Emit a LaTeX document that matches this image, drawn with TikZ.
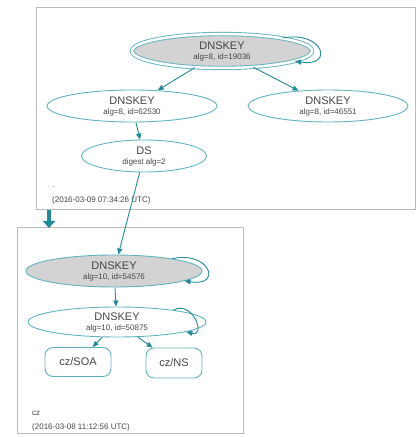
\documentclass[tikz,border=0pt]{standalone}
\usepackage{fontspec}
\setmainfont{Liberation Sans}
\usetikzlibrary{shapes.geometric,arrows.meta}
\definecolor{edgec}{HTML}{1E8A9A}
\definecolor{nodec}{HTML}{5FB3C0}
\definecolor{boxc}{HTML}{BBBBBB}
\definecolor{txtc}{HTML}{444444}
\definecolor{ksk}{HTML}{D3D3D3}
\tikzset{
  x=1pt,y=1pt,
  zonebox/.style={draw=boxc,line width=1pt},
  keynode/.style={ellipse,draw=nodec,line width=0.9pt,inner sep=0pt,text=txtc,align=center,font=\fontsize{11}{11}\selectfont},
  rrnode/.style={rectangle,rounded corners=8pt,draw=nodec,line width=0.9pt,inner sep=0pt,text=txtc,font=\fontsize{11}{11}\selectfont},
  sub/.style={font=\fontsize{8}{9}\selectfont},
  edge/.style={draw=edgec,line width=0.9pt,-{Triangle[length=6pt,width=5pt]}},
  note/.style={anchor=west,text=txtc,inner sep=0pt,font=\fontsize{8}{9}\selectfont}
}
\begin{document}
\begin{tikzpicture}
\useasboundingbox (0,0) rectangle (419,437);
% zone boxes
\draw[zonebox] (36,429) rectangle (415,227);
\draw[zonebox] (17,209) rectangle (243,3);
% root zone nodes
\node[keynode,fill=ksk,double=white,double distance=2.5pt,minimum width=180pt,minimum height=34pt] (root) at (222,386) {DNSKEY\\[-1pt]{\fontsize{8}{9}\selectfont alg=8, id=19036}};
\node[keynode,minimum width=170pt,minimum height=32pt] (zska) at (132,331) {DNSKEY\\[-1pt]{\fontsize{8}{9}\selectfont alg=8, id=62530}};
\node[keynode,minimum width=160pt,minimum height=32pt] (zskb) at (328,331) {DNSKEY\\[-1pt]{\fontsize{8}{9}\selectfont alg=8, id=46551}};
\node[keynode,minimum width=125pt,minimum height=32pt] (ds) at (144,281) {DS\\[-1pt]{\fontsize{8}{9}\selectfont digest alg=2}};
\node[note] (rootname) at (52,250) {.};
\node[note] (rootdate) at (52,237) {(2016-03-09 07:34:26 UTC)};
% cz zone nodes
\node[keynode,fill=ksk,minimum width=176pt,minimum height=32pt] (czksk) at (114,166) {DNSKEY\\[-1pt]{\fontsize{8}{9}\selectfont alg=10, id=54576}};
\node[keynode,minimum width=178pt,minimum height=30pt] (czzsk) at (117,115) {DNSKEY\\[-1pt]{\fontsize{8}{9}\selectfont alg=10, id=50875}};
\node[rrnode,minimum width=66pt,minimum height=29pt] (soa) at (78,75) {cz/SOA};
\node[rrnode,minimum width=56pt,minimum height=30pt] (ns) at (174,74) {cz/NS};
\node[note] (czname) at (32,24) {cz};
\node[note] (czdate) at (32,10) {(2016-03-08 11:12:56 UTC)};
% zone delegation arrow
\coordinate (dA) at (49,227);
\coordinate (dB) at (49,209);
\draw[draw=edgec,line width=4pt,-{Triangle[length=7pt,width=12pt]}] (dA) -- (dB);
% edges
\draw[edge] (root) -- (zska);
\draw[edge] (root) -- (zskb);
\draw[edge] (zska) -- (ds);
\draw[edge] (ds) -- (czksk);
\draw[edge] (czksk) -- (czzsk);
\draw[edge] (czzsk) -- (soa);
\draw[edge] (czzsk) -- (ns);
% self loops
\draw[edge] (root.12) .. controls +(40,8) and +(40,-6) .. (root.-8);
\draw[edge] (czksk.12) .. controls +(38,8) and +(38,-6) .. (czksk.-8);
\draw[edge] (czzsk.12) .. controls +(20,10) and +(20,-6) .. (czzsk.-8);
\end{tikzpicture}
\end{document}
